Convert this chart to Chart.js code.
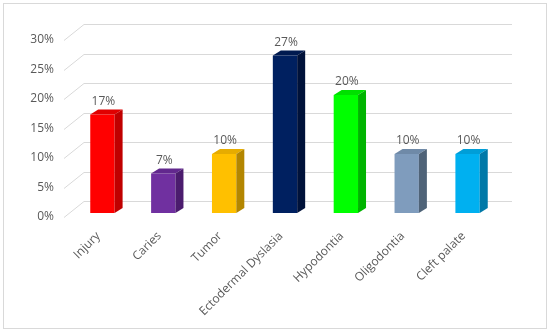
<!DOCTYPE html>
<html>
<head>
<meta charset="utf-8">
<script src="https://cdn.jsdelivr.net/npm/chart.js@4.4.1/dist/chart.umd.min.js"></script>
<style>
  body { margin: 0; background: #fff; }
  #wrap { position: relative; width: 550px; height: 333px; }
  #frame { position: absolute; left: 3px; top: 3px; width: 542px; height: 324px; border: 1px solid #d9d9d9; }
  canvas { position: absolute; left: 0; top: 0; }
</style>
</head>
<body>
<div id="wrap">
  <div id="frame"></div>
  <canvas id="chart" width="550" height="333"></canvas>
</div>
<script>
const categories = ['Injury', 'Caries', 'Tumor', 'Ectodermal Dyslasia', 'Hypodontia', 'Oligodontia', 'Cleft palate'];
const values = [16.7, 6.7, 10, 26.7, 20, 10, 10];
const frontColors = ['#ff0000', '#7030a0', '#ffc000', '#002060', '#00ff00', '#7f9cbd', '#00b0f0'];
const topColors = ['#e00000', '#62288e', '#e6ac00', '#001a50', '#00e000', '#6f8aa8', '#009ed8'];
const sideColors = ['#c00000', '#4b1c6e', '#b38600', '#00123a', '#00b400', '#4f6378', '#0079a8'];

const font = { family: 'Open Sans', size: 12 };
const textColor = '#595959';

// 3d geometry (px)
const barDx = 8, barDy = -5;

const gridPlugin = {
  id: 'grid3d',
  beforeDatasetsDraw(chart) {
    const { ctx, chartArea, scales } = chart;
    ctx.save();
    ctx.strokeStyle = '#d9d9d9';
    ctx.lineWidth = 1;
    for (let v = 0; v <= 30; v += 5) {
      const y = Math.round(scales.y.getPixelForValue(v)) + 0.5;
      ctx.beginPath();
      ctx.moveTo(chartArea.left - 8, y + 4);
      ctx.lineTo(chartArea.left + 12, y - 12);
      ctx.lineTo(chartArea.right + 14, y - 12);
      ctx.stroke();
    }
    ctx.restore();
  }
};

const boxPlugin = {
  id: 'box3d',
  afterDatasetsDraw(chart) {
    const { ctx } = chart;
    const meta = chart.getDatasetMeta(0);
    ctx.save();
    meta.data.forEach((bar, i) => {
      const x0 = bar.x - bar.width / 2, x1 = bar.x + bar.width / 2;
      const yt = bar.y, yb = bar.base;
      ctx.fillStyle = topColors[i];
      ctx.beginPath();
      ctx.moveTo(x0, yt);
      ctx.lineTo(x0 + barDx, yt + barDy);
      ctx.lineTo(x1 + barDx, yt + barDy);
      ctx.lineTo(x1, yt);
      ctx.closePath();
      ctx.fill();
      ctx.fillStyle = sideColors[i];
      ctx.beginPath();
      ctx.moveTo(x1, yt);
      ctx.lineTo(x1 + barDx, yt + barDy);
      ctx.lineTo(x1 + barDx, yb + barDy);
      ctx.lineTo(x1, yb);
      ctx.closePath();
      ctx.fill();

      ctx.fillStyle = textColor;
      ctx.font = '12px "Open Sans"';
      ctx.textAlign = 'center';
      ctx.textBaseline = 'bottom';
      ctx.fillText(Math.round(values[i]) + '%', bar.x + 1, yt - 7);
    });
    ctx.restore();
  }
};

new Chart(document.getElementById('chart'), {
  type: 'bar',
  data: {
    labels: categories,
    datasets: [{
      data: values,
      backgroundColor: frontColors,
      borderWidth: 0,
      barPercentage: 0.4,
      categoryPercentage: 1
    }]
  },
  options: {
    responsive: false,
    animation: false,
    layout: { padding: { top: 36, right: 52, bottom: 0, left: 0 } },
    plugins: { legend: { display: false }, tooltip: { enabled: false } },
    scales: {
      x: {
        grid: { display: false, drawTicks: false },
        border: { display: false },
        ticks: { font, color: textColor, minRotation: 45, maxRotation: 45, padding: 16, labelOffset: -4, autoSkip: false },
        afterFit(scale) { scale.height = 120; }
      },
      y: {
        min: 0, max: 30,
        grid: { display: false, drawTicks: false },
        border: { display: false },
        ticks: { font, color: textColor, stepSize: 5, padding: 18, labelOffset: 4, callback: v => v + '%' },
        afterFit(scale) { scale.width = 72; }
      }
    }
  },
  plugins: [gridPlugin, boxPlugin]
});
</script>
</body>
</html>
